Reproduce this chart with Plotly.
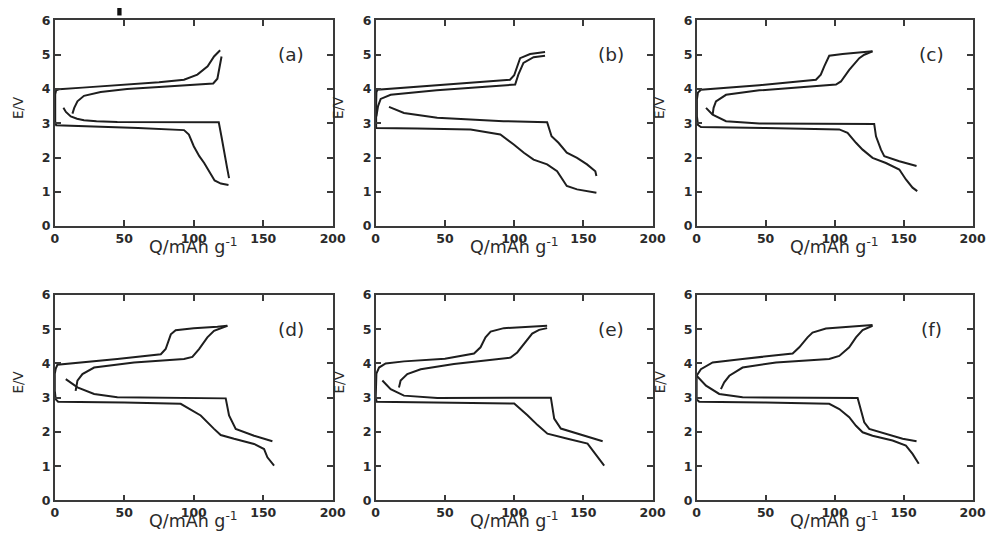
import plotly.graph_objects as go
from plotly.subplots import make_subplots

# Panel labels
PANELS = ["(a)", "(b)", "(c)", "(d)", "(e)", "(f)"]

# Axis ticks
Q_TICKS = [0, 50, 100, 150, 200]
E_TICKS = [0, 1, 2, 3, 4, 5, 6]

# ---- (a) ----
A_Q1 = [125, 119.5, 115, 112, 107.5, 104, 100, 96.5, 93, 60, 20, 3, 1, 0.3, 0.3, 1, 3, 20, 52, 75, 93, 102.6, 110, 114.6, 119]
A_E1 = [1.2, 1.24, 1.33, 1.55, 1.84, 2.04, 2.33, 2.67, 2.8, 2.86, 2.9, 2.92, 2.94, 3.05, 3.85, 3.96, 3.99, 4.04, 4.13, 4.2, 4.27, 4.42, 4.66, 4.95, 5.13]
A_Q2 = [12.7, 14, 16.3, 21, 33, 52, 75, 93, 110, 114, 117, 118.5, 120]
A_E2 = [3.28, 3.45, 3.64, 3.8, 3.91, 4.0, 4.06, 4.11, 4.14, 4.16, 4.3, 4.6, 4.95]
A_Q3 = [6.2, 8, 11.5, 16, 21, 30, 45, 80, 118, 120, 122, 124, 125.4]
A_E3 = [3.45, 3.33, 3.2, 3.13, 3.09, 3.06, 3.04, 3.03, 3.03, 2.6, 2.1, 1.7, 1.4]

# ---- (b) ----
B_Q1 = [159.4, 145.4, 138, 131, 123.8, 114, 107, 99.7, 90, 68.5, 30, 0.3, 0.3, 0.5, 1.2, 44, 97, 100, 102, 104.3, 111.5, 122.3]
B_E1 = [0.97, 1.07, 1.17, 1.6, 1.8, 1.94, 2.14, 2.38, 2.67, 2.82, 2.85, 2.86, 3.5, 3.9, 3.98, 4.1, 4.27, 4.4, 4.61, 4.9, 5.02, 5.08]
B_Q2 = [0.5, 1.7, 3.6, 10.8, 44, 100.7, 103, 106.7, 114, 122.3]
B_E2 = [3.2, 3.5, 3.71, 3.83, 3.96, 4.13, 4.42, 4.76, 4.93, 4.97]
B_Q3 = [9.6, 20.4, 44.4, 92.3, 123.8, 127, 132, 138, 145.4, 152.6, 158.6, 159.4]
B_E3 = [3.48, 3.3, 3.16, 3.06, 3.03, 2.62, 2.43, 2.14, 1.99, 1.8, 1.6, 1.46]

# ---- (c) ----
C_Q1 = [159.9, 156.5, 151.7, 146.9, 137.2, 127.5, 120.3, 115.5, 109.4, 103.4, 50, 3.1, 1, 0.2, 0.2, 1, 3.1, 45.4, 86.5, 90, 92.5, 96.1, 105.8, 120.3, 127.5]
C_E1 = [1.02, 1.12, 1.36, 1.65, 1.84, 1.99, 2.23, 2.43, 2.72, 2.82, 2.86, 2.89, 2.95, 3.2, 3.7, 3.9, 3.98, 4.11, 4.27, 4.42, 4.66, 4.97, 5.02, 5.07, 5.1]
C_Q2 = [11.6, 12.3, 14, 21.3, 45.4, 75, 101, 104.6, 110.6, 117.9, 121.5, 127.5]
C_E2 = [3.25, 3.45, 3.64, 3.83, 3.96, 4.05, 4.13, 4.22, 4.56, 4.9, 5.0, 5.1]
C_Q3 = [6.8, 11.6, 21.3, 45.4, 128.7, 130, 133.6, 136, 146.9, 155.3, 159.4]
C_E3 = [3.45, 3.25, 3.06, 2.99, 2.98, 2.62, 2.23, 2.04, 1.89, 1.8, 1.75]

# ---- (d) ----
D_Q1 = [157.8, 153, 150.6, 143.4, 129, 119.4, 114.6, 105, 90.6, 50, 2.4, 0.7, 0, 0, 0.7, 1.9, 45, 76.3, 79.8, 83.5, 87, 100, 117, 124.2]
D_E1 = [1.02, 1.26, 1.5, 1.65, 1.8, 1.91, 2.09, 2.48, 2.82, 2.86, 2.88, 2.95, 3.2, 3.7, 3.85, 3.96, 4.13, 4.27, 4.42, 4.85, 4.97, 5.03, 5.07, 5.1]
D_Q2 = [15, 16.3, 19.9, 28.3, 57, 93, 99, 103.8, 109.8, 114.6, 124.2]
D_E2 = [3.2, 3.5, 3.69, 3.88, 4.03, 4.13, 4.19, 4.42, 4.76, 4.95, 5.1]
D_Q3 = [7.9, 16.3, 28.3, 45, 123, 125.4, 130.2, 143.4, 156.6]
D_E3 = [3.54, 3.3, 3.11, 3.01, 2.98, 2.48, 2.09, 1.89, 1.73]

# ---- (e) ----
E_Q1 = [165, 157.8, 153, 138.6, 124, 116.9, 109.6, 100, 50, 0.7, 0, 0, 0.5, 2.4, 7.2, 20.4, 50, 71, 75.7, 79.3, 83, 92.5, 111.8, 123.8]
E_E1 = [1.02, 1.41, 1.66, 1.8, 1.95, 2.2, 2.49, 2.83, 2.86, 2.88, 3.0, 3.6, 3.7, 3.88, 4.0, 4.06, 4.14, 4.29, 4.47, 4.76, 4.93, 5.03, 5.07, 5.1]
E_Q2 = [16.8, 18, 22.8, 32.5, 56.5, 90.1, 97.4, 102.2, 109.4, 113, 118, 123.8]
E_E2 = [3.3, 3.5, 3.69, 3.83, 3.98, 4.12, 4.17, 4.32, 4.71, 4.87, 4.98, 5.03]
E_Q3 = [4.8, 10.8, 20.4, 44.5, 126.5, 128.9, 133.7, 153, 163.9]
E_E3 = [3.5, 3.25, 3.06, 2.99, 3.0, 2.39, 2.1, 1.85, 1.73]

# ---- (f) ----
F_Q1 = [161, 156.5, 151.7, 142, 127.5, 120.3, 115.5, 110.6, 103.4, 96.1, 50, 1.9, 0, 0, 3.1, 11.6, 33.3, 69.6, 74.4, 80.4, 84, 93.7, 110.6, 127.5]
F_E1 = [1.07, 1.36, 1.6, 1.75, 1.89, 1.99, 2.18, 2.43, 2.67, 2.82, 2.86, 2.88, 2.95, 3.64, 3.83, 4.03, 4.13, 4.29, 4.47, 4.76, 4.9, 5.02, 5.07, 5.12]
F_Q2 = [17.6, 20, 23.7, 33.3, 57.5, 96.1, 103.4, 110.6, 115.5, 120.3, 127.5]
F_E2 = [3.25, 3.45, 3.64, 3.88, 4.03, 4.13, 4.22, 4.47, 4.76, 4.97, 5.1]
F_Q3 = [0, 6.8, 16.4, 33.3, 116.7, 119, 121.5, 125.1, 137.2, 149.3, 159.4]
F_E3 = [3.64, 3.35, 3.11, 3.01, 2.99, 2.62, 2.28, 2.09, 1.94, 1.8, 1.73]

CURVES = [
    [(A_Q1, A_E1), (A_Q2, A_E2), (A_Q3, A_E3)],
    [(B_Q1, B_E1), (B_Q2, B_E2), (B_Q3, B_E3)],
    [(C_Q1, C_E1), (C_Q2, C_E2), (C_Q3, C_E3)],
    [(D_Q1, D_E1), (D_Q2, D_E2), (D_Q3, D_E3)],
    [(E_Q1, E_E1), (E_Q2, E_E2), (E_Q3, E_E3)],
    [(F_Q1, F_E1), (F_Q2, F_E2), (F_Q3, F_E3)],
]

W, H = 986, 555
# Target on-screen placement (pixels) of each panel frame
COL_PX = [(54, 332), (375, 652), (696, 972)]
ROW_PX = [(19, 225), (294, 500)]

# The viewer shows the page slightly inset and scaled; map screen pixels
# back to figure pixels before converting to paper fractions.
SX, OX = 0.983, 3.2
SY, OY = 0.975, 6.5


def px(x):
    return ((x - OX) / SX) / W


def py(y):
    return 1 - ((y - OY) / SY) / H


LINE_COLOR = "#1e1e1e"
AXIS_COLOR = "#3a3a3a"
TEXT_COLOR = "#2a2a2a"

fig = make_subplots(rows=2, cols=3)

for i, curves in enumerate(CURVES):
    r, c = divmod(i, 3)
    for q, e in curves:
        fig.add_trace(
            go.Scatter(x=q, y=e, mode="lines",
                       line=dict(color=LINE_COLOR, width=2),
                       showlegend=False, hoverinfo="skip"),
            row=r + 1, col=c + 1,
        )

    x0, x1 = COL_PX[c]
    y0, y1 = ROW_PX[r]
    fig.update_xaxes(
        domain=[px(x0), min(px(x1), 1.0)], range=[0, 200], tickvals=Q_TICKS,
        showline=True, linecolor=AXIS_COLOR, linewidth=1.5, mirror="ticks",
        ticks="inside", ticklen=6, tickwidth=1.5, tickcolor=AXIS_COLOR,
        showgrid=False, zeroline=False,
        tickfont=dict(family="DejaVu Sans", size=12.5, color=TEXT_COLOR, weight="bold"),
        row=r + 1, col=c + 1,
    )
    fig.update_yaxes(
        domain=[py(y1), min(py(y0), 1.0)], range=[0, 6], tickvals=E_TICKS,
        showline=True, linecolor=AXIS_COLOR, linewidth=1.5, mirror="ticks",
        ticks="inside", ticklen=6, tickwidth=1.5, tickcolor=AXIS_COLOR,
        showgrid=False, zeroline=False,
        tickfont=dict(family="DejaVu Sans", size=12.5, color=TEXT_COLOR, weight="bold"),
        row=r + 1, col=c + 1,
    )

    # panel letter
    xref = "x" if i == 0 else f"x{i + 1}"
    yref = "y" if i == 0 else f"y{i + 1}"
    fig.add_annotation(x=170, y=5.0, xref=xref, yref=yref, text=PANELS[i],
                       showarrow=False, xanchor="center", yanchor="middle",
                       font=dict(family="DejaVu Sans", size=18.5, color=TEXT_COLOR))

    # axis titles
    fig.add_annotation(x=px((x0 + x1) / 2), y=py(y1 + 7), xref="paper", yref="paper",
                       text="Q/mAh g<sup>-1</sup>", showarrow=False,
                       xanchor="center", yanchor="top",
                       font=dict(family="DejaVu Sans", size=17.5, color=TEXT_COLOR))
    fig.add_annotation(x=px(x0 - 37), y=py(y0 + 87), xref="paper", yref="paper",
                       text="E/V", showarrow=False, textangle=-90,
                       xanchor="center", yanchor="middle",
                       font=dict(family="DejaVu Sans", size=13.5, color=TEXT_COLOR))

# small dark bar at the top edge
fig.add_shape(type="rect", xref="paper", yref="paper",
              x0=px(116.5), x1=px(120.8), y0=py(14), y1=1.0,
              fillcolor="#111111", line=dict(width=0))

fig.update_layout(
    width=W, height=H,
    margin=dict(l=0, r=0, t=0, b=0),
    paper_bgcolor="white", plot_bgcolor="white",
)

fig.write_html("out.html")
